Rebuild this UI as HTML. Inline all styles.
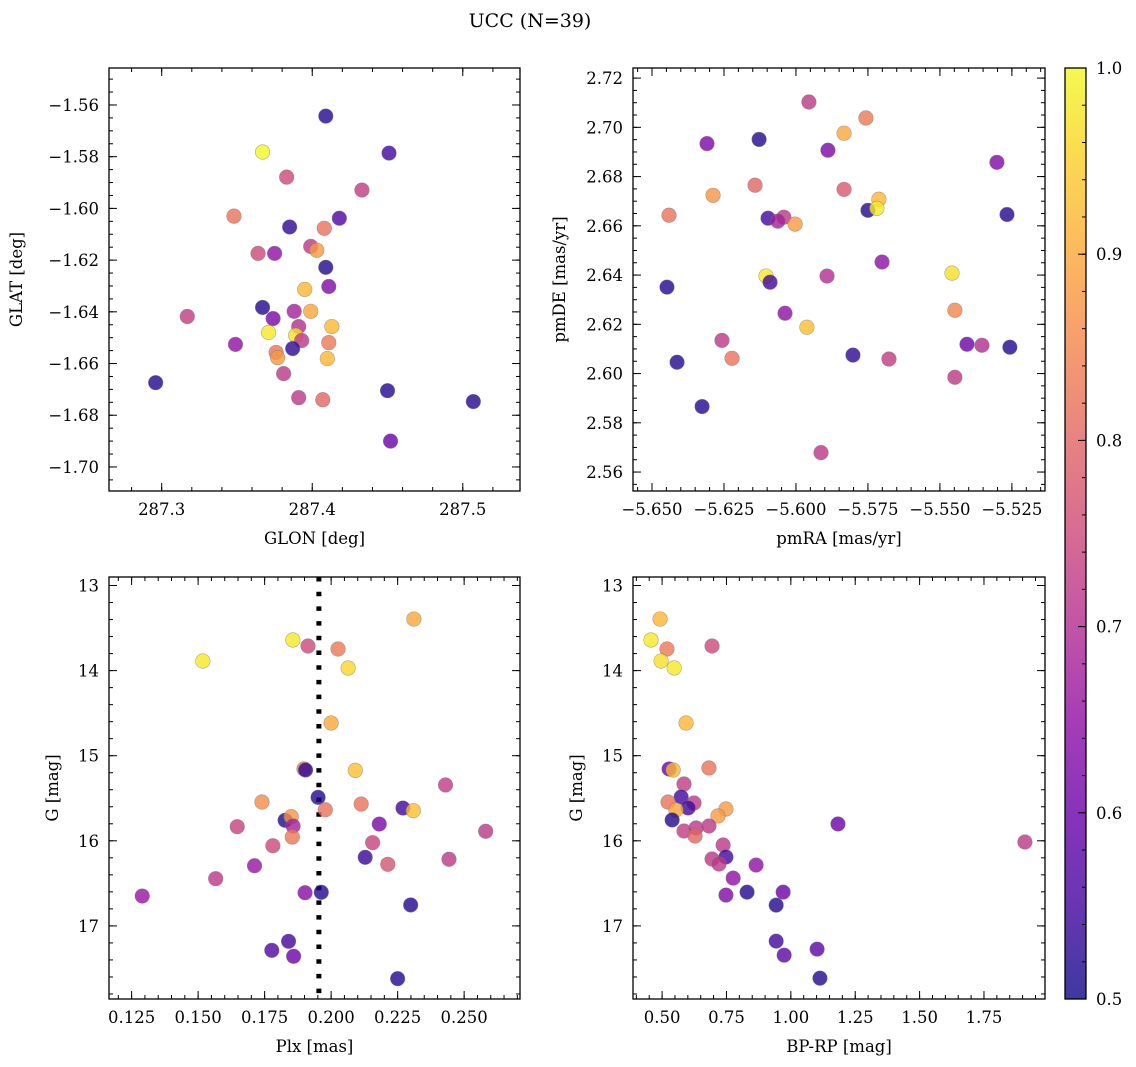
<!DOCTYPE html>
<html><head><meta charset="utf-8"><style>
html,body{margin:0;padding:0;background:#fff;}
svg{display:block;font-family:"DejaVu Serif","Liberation Serif",serif;}
</style></head><body>
<svg id="fig" width="1136" height="1067" viewBox="0 0 1136 1067" xmlns="http://www.w3.org/2000/svg">
<defs>
<linearGradient id="plasma" x1="0" y1="1" x2="0" y2="0">
<stop offset="0" stop-color="#0d0887"/><stop offset="0.1" stop-color="#41049d"/><stop offset="0.2" stop-color="#6a00a8"/><stop offset="0.3" stop-color="#8f0da4"/><stop offset="0.4" stop-color="#b12a90"/><stop offset="0.5" stop-color="#cc4778"/><stop offset="0.6" stop-color="#e16462"/><stop offset="0.7" stop-color="#f2844b"/><stop offset="0.8" stop-color="#fca636"/><stop offset="0.9" stop-color="#fcce25"/><stop offset="1" stop-color="#f0f921"/>
</linearGradient>
</defs>
<text x="530" y="27" font-size="19" text-anchor="middle">UCC (N=39)</text>
</svg>
<script>
// Panel 1: GLON / GLAT
const glon = [287.409,287.367,287.451,287.383,287.433,287.348,287.418,287.385,287.408,287.399,287.403,287.364,287.375,287.409,287.411,287.395,287.317,287.367,287.388,287.399,287.374,287.413,287.391,287.371,287.389,287.349,287.393,287.411,287.387,287.376,287.377,287.410,287.381,287.296,287.450,287.391,287.407,287.507,287.452];
const glat = [-1.5643,-1.5782,-1.5786,-1.5879,-1.5929,-1.6030,-1.6038,-1.6072,-1.6077,-1.6147,-1.6162,-1.6174,-1.6174,-1.6228,-1.6302,-1.6313,-1.6418,-1.6383,-1.6398,-1.6398,-1.6426,-1.6457,-1.6457,-1.6480,-1.6491,-1.6526,-1.6511,-1.6519,-1.6542,-1.6557,-1.6577,-1.6581,-1.6639,-1.6674,-1.6705,-1.6732,-1.6740,-1.6747,-1.6900];
const prob1 = [0.52,1.0,0.55,0.75,0.73,0.82,0.57,0.53,0.82,0.72,0.88,0.75,0.65,0.52,0.63,0.92,0.73,0.52,0.68,0.9,0.62,0.92,0.7,0.98,0.97,0.65,0.72,0.83,0.53,0.82,0.88,0.92,0.72,0.52,0.52,0.72,0.8,0.52,0.6];
// Panel 2: pmRA / pmDE
const pmra = [-5.5955,-5.5757,-5.5833,-5.6309,-5.6128,-5.5889,-5.5302,-5.6142,-5.5833,-5.6288,-5.5712,-5.5750,-5.5719,-5.6441,-5.5267,-5.6097,-5.6042,-5.6063,-5.6003,-5.6104,-5.6090,-5.5892,-5.5701,-5.5458,-5.6448,-5.6038,-5.5448,-5.5962,-5.6257,-5.5406,-5.5354,-5.5257,-5.6222,-5.5802,-5.5677,-5.6413,-5.5448,-5.6326,-5.5913];
const pmde = [2.7103,2.7038,2.6976,2.6934,2.6951,2.6907,2.6858,2.6765,2.6748,2.6724,2.6708,2.6663,2.6671,2.6643,2.6646,2.6631,2.6635,2.6619,2.6607,2.6396,2.6371,2.6396,2.6453,2.6408,2.6351,2.6245,2.6257,2.6188,2.6135,2.6119,2.6115,2.6107,2.6062,2.6075,2.6059,2.6046,2.5985,2.5866,2.5679];
const prob2 = [0.72,0.83,0.9,0.62,0.52,0.62,0.63,0.8,0.78,0.87,0.92,0.52,0.98,0.82,0.52,0.55,0.72,0.68,0.88,0.98,0.55,0.7,0.65,0.97,0.52,0.65,0.85,0.93,0.72,0.6,0.7,0.52,0.82,0.53,0.73,0.52,0.72,0.52,0.72];
// Panel 3: Plx / G
const plx = [0.2311,0.1856,0.1913,0.2026,0.1518,0.2064,0.2000,0.1898,0.1904,0.2091,0.2430,0.1951,0.1740,0.2113,0.1978,0.2270,0.2309,0.1827,0.1850,0.1857,0.1647,0.2181,0.2581,0.1854,0.1781,0.2156,0.2128,0.2213,0.2443,0.1712,0.1566,0.1290,0.1902,0.1963,0.2299,0.1840,0.1777,0.1859,0.2250];
const gmag3 = [13.394,13.640,13.711,13.746,13.887,13.969,14.616,15.156,15.168,15.172,15.344,15.489,15.544,15.568,15.635,15.615,15.646,15.759,15.717,15.826,15.834,15.803,15.888,15.955,16.058,16.022,16.194,16.276,16.217,16.293,16.445,16.649,16.610,16.605,16.754,17.181,17.287,17.357,17.620];
const prob3 = [0.9,0.98,0.75,0.83,0.98,0.96,0.9,0.82,0.53,0.93,0.73,0.52,0.86,0.82,0.82,0.55,0.93,0.52,0.87,0.68,0.74,0.62,0.72,0.83,0.75,0.74,0.54,0.77,0.72,0.66,0.72,0.66,0.64,0.52,0.52,0.55,0.57,0.6,0.52];
const plxLine = [0.1954];
// Panel 4: BP-RP / G
const bprp = [0.492,0.457,0.519,0.694,0.496,0.547,0.593,0.527,0.543,0.682,0.585,0.574,0.523,0.624,0.601,0.554,0.748,0.717,0.539,1.183,0.632,0.682,0.585,0.628,0.737,1.909,0.694,0.748,0.721,0.865,0.776,0.748,0.830,0.970,0.943,0.943,0.974,1.102,1.113];
const gmag4 = [13.394,13.640,13.746,13.711,13.887,13.969,14.616,15.156,15.168,15.144,15.332,15.485,15.544,15.556,15.614,15.638,15.626,15.708,15.755,15.802,15.849,15.826,15.885,15.943,16.049,16.014,16.214,16.190,16.273,16.285,16.438,16.638,16.603,16.603,16.756,17.179,17.344,17.273,17.614];
const prob4 = [0.92,0.98,0.83,0.75,0.97,0.98,0.92,0.6,0.92,0.82,0.73,0.55,0.82,0.72,0.55,0.9,0.88,0.88,0.52,0.6,0.72,0.72,0.73,0.8,0.72,0.72,0.72,0.55,0.72,0.65,0.65,0.63,0.52,0.6,0.52,0.55,0.58,0.58,0.52];
// Tick labels
const xt1 = [287.3,287.4,287.5];
const xt1Labels = ["287.3","287.4","287.5"];
const yt1 = [-1.70,-1.68,-1.66,-1.64,-1.62,-1.60,-1.58,-1.56];
const yt1Labels = ["−1.70","−1.68","−1.66","−1.64","−1.62","−1.60","−1.58","−1.56"];
const xt2 = [-5.650,-5.625,-5.600,-5.575,-5.550,-5.525];
const xt2Labels = ["−5.650","−5.625","−5.600","−5.575","−5.550","−5.525"];
const yt2 = [2.56,2.58,2.60,2.62,2.64,2.66,2.68,2.70,2.72];
const yt2Labels = ["2.56","2.58","2.60","2.62","2.64","2.66","2.68","2.70","2.72"];
const xt3 = [0.125,0.150,0.175,0.200,0.225,0.250];
const xt3Labels = ["0.125","0.150","0.175","0.200","0.225","0.250"];
const ytG = [13,14,15,16,17];
const ytGLabels = ["13","14","15","16","17"];
const xt4 = [0.50,0.75,1.00,1.25,1.50,1.75];
const xt4Labels = ["0.50","0.75","1.00","1.25","1.50","1.75"];
const cbTicks = [0.5,0.6,0.7,0.8,0.9,1.0];
const cbLabels = ["0.5","0.6","0.7","0.8","0.9","1.0"];

const NS = "http://www.w3.org/2000/svg";
const svg = document.getElementById('fig');
function mk(tag, attrs, parent){
  const e = document.createElementNS(NS, tag);
  for (const k in attrs) e.setAttribute(k, attrs[k]);
  (parent||svg).appendChild(e);
  return e;
}
const stops = [[13,8,135],[65,4,157],[106,0,168],[143,13,164],[177,42,144],[204,71,120],[225,100,98],[242,132,75],[252,166,54],[252,206,37],[240,249,33]];
function plasma(c){
  let t = (c-0.5)/0.5; t = Math.max(0, Math.min(1, t));
  const f = t*10, i = Math.min(9, Math.floor(f)), r = f-i;
  const a = stops[i], b = stops[i+1];
  return 'rgb(' + [0,1,2].map(k => Math.round(a[k]+(b[k]-a[k])*r)).join(',') + ')';
}

function panel(cfg){
  const g = mk('g', {});
  
  
  const {x0,y0,x1,y1} = cfg.box;
  const sx = v => x0 + (v-cfg.xd[0])/(cfg.xd[1]-cfg.xd[0])*(x1-x0);
  const sy = cfg.invert ? (v => y0 + (v-cfg.yd[0])/(cfg.yd[1]-cfg.yd[0])*(y1-y0))
                        : (v => y1 - (v-cfg.yd[0])/(cfg.yd[1]-cfg.yd[0])*(y1-y0));
  const ticks = mk('g', {stroke:'#000','stroke-width':1}, g);
  
  
  const xlo = Math.min(cfg.xd[0],cfg.xd[1]), xhi = Math.max(cfg.xd[0],cfg.xd[1]);
  for (let k = Math.ceil(xlo/cfg.xmin - 1e-6); k*cfg.xmin <= xhi + 1e-9; k++){
    const x = sx(k*cfg.xmin);
    mk('line', {x1:x,y1:y1,x2:x,y2:y1-4}, ticks); mk('line', {x1:x,y1:y0,x2:x,y2:y0+4}, ticks);
  }
  const ylo = Math.min(cfg.yd[0],cfg.yd[1]), yhi = Math.max(cfg.yd[0],cfg.yd[1]);
  for (let k = Math.ceil(ylo/cfg.ymin - 1e-6); k*cfg.ymin <= yhi + 1e-9; k++){
    const y = sy(k*cfg.ymin);
    mk('line', {x1:x0,y1:y,x2:x0+4,y2:y}, ticks); mk('line', {x1:x1,y1:y,x2:x1-4,y2:y}, ticks);
  }
  cfg.xt.forEach((v,i) => {
    const x = sx(v);
    mk('line', {x1:x,y1:y1,x2:x,y2:y1-8}, ticks); mk('line', {x1:x,y1:y0,x2:x,y2:y0+8}, ticks);
    const t = mk('text', {x:x,y:y1+24,'font-size':16.5,'text-anchor':'middle'}, g);
    
    
    t.textContent = cfg.xl[i];
  });
  cfg.yt.forEach((v,i) => {
    const y = sy(v);
    mk('line', {x1:x0,y1:y,x2:x0+8,y2:y}, ticks); mk('line', {x1:x1,y1:y,x2:x1-8,y2:y}, ticks);
    const t = mk('text', {x:x0-10,y:y+6,'font-size':16.5,'text-anchor':'end'}, g);
    
    
    t.textContent = cfg.yl[i];
  });
  if (cfg.vline){
    cfg.vline.forEach(v => {
      const l = mk('line', {x1:sx(v),y1:y0,x2:sx(v),y2:y1,stroke:'#000','stroke-width':5,'stroke-dasharray':'4.5 10.2'}, g);
      
      
    });
  }
  const pts = mk('g', {}, g);
  
  
  cfg.xs.forEach((v,i) => {
    const c = mk('circle', {cx:sx(v),cy:sy(cfg.ys[i]),r:7.3,fill:plasma(cfg.cs[i]),'fill-opacity':0.8,stroke:'#777','stroke-opacity':0.6,'stroke-width':0.6}, pts);
    
    
  });
  const fr = mk('rect', {x:x0,y:y0,width:x1-x0,height:y1-y0,fill:'none',stroke:'#000','stroke-width':1.3}, g);
  
  
  const xlab = mk('text', {x:(x0+x1)/2,y:y1+53,'font-size':16.5,'text-anchor':'middle'}, g);
  
  
  xlab.textContent = cfg.xlabel;
  const ylab = mk('text', {x:0,y:0,'font-size':16.5,'text-anchor':'middle',transform:'translate('+cfg.ylx+','+((y0+y1)/2)+') rotate(-90)'}, g);
  
  
  ylab.textContent = cfg.ylabel;
}

panel({name:'glon-glat-panel',box:{x0:109,y0:68,x1:520,y1:491},xd:[287.265,287.538],yd:[-1.7093,-1.5457],
  xt:xt1,xl:xt1Labels,yt:yt1,yl:yt1Labels,xmin:0.02,ymin:0.005,xs:glon,ys:glat,cs:prob1,xlabel:'GLON [deg]',ylabel:'GLAT [deg]',ylx:22});
panel({name:'pm-panel',box:{x0:633,y0:68,x1:1045,y1:491},xd:[-5.6566,-5.5135],yd:[2.5523,2.7241],
  xt:xt2,xl:xt2Labels,yt:yt2,yl:yt2Labels,xmin:0.005,ymin:0.005,xs:pmra,ys:pmde,cs:prob2,xlabel:'pmRA [mas/yr]',ylabel:'pmDE [mas/yr]',ylx:565});
panel({name:'plx-g-panel',box:{x0:109,y0:577,x1:520,y1:999},xd:[0.1165,0.271],yd:[12.9,17.859],invert:true,
  xt:xt3,xl:xt3Labels,yt:ytG,yl:ytGLabels,xmin:0.005,ymin:0.2,xs:plx,ys:gmag3,cs:prob3,xlabel:'Plx [mas]',ylabel:'G [mag]',ylx:58,vline:plxLine});
panel({name:'cmd-panel',box:{x0:633,y0:577,x1:1045,y1:999},xd:[0.387,1.987],yd:[12.9,17.859],invert:true,
  xt:xt4,xl:xt4Labels,yt:ytG,yl:ytGLabels,xmin:0.05,ymin:0.2,xs:bprp,ys:gmag4,cs:prob4,xlabel:'BP-RP [mag]',ylabel:'G [mag]',ylx:582});

// colorbar
const cb = mk('g', {});


const cbx0 = 1065, cbx1 = 1086, cby0 = 68, cby1 = 999;
mk('rect', {x:cbx0,y:cby0,width:cbx1-cbx0,height:cby1-cby0,fill:'url(#plasma)','fill-opacity':0.8}, cb);
const cy = v => cby1 - (v-0.5)/0.5*(cby1-cby0);
for (let k = 25; k <= 50; k++){
  const y = cy(k*0.02);
  mk('line', {x1:cbx1,y1:y,x2:cbx1-4,y2:y,stroke:'#000','stroke-width':1}, cb);
}
cbTicks.forEach((v,i) => {
  const y = cy(v);
  mk('line', {x1:cbx1,y1:y,x2:cbx1-8,y2:y,stroke:'#000','stroke-width':1}, cb);
  const t = mk('text', {x:cbx1+10,y:y+6,'font-size':16.5}, cb);
  
  
  t.textContent = cbLabels[i];
});
mk('rect', {x:cbx0,y:cby0,width:cbx1-cbx0,height:cby1-cby0,fill:'none',stroke:'#000','stroke-width':1.3}, cb);
</script>
</body></html>
